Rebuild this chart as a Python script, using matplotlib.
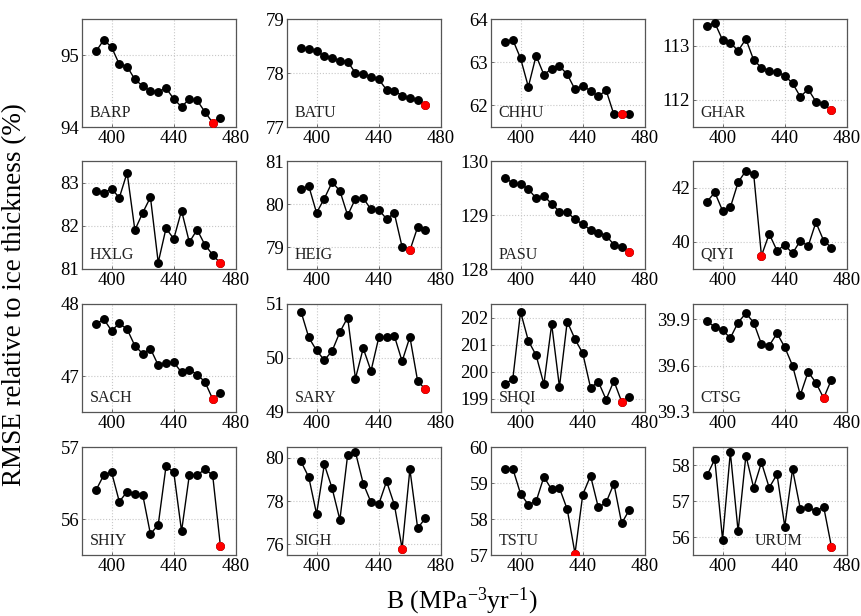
import matplotlib
matplotlib.use("Agg")
import matplotlib.pyplot as plt
import numpy as np

plt.rcParams['font.family'] = ['Liberation Serif', 'DejaVu Serif']
plt.rcParams['mathtext.fontset'] = 'custom'
plt.rcParams['mathtext.rm'] = 'Liberation Serif'
plt.rcParams['mathtext.it'] = 'Liberation Serif:italic'

B = [390, 395, 400, 405, 410, 415, 420, 425, 430, 435, 440, 445, 450, 455, 460, 465, 470]

stations = ["BARP", "BATU", "CHHU", "GHAR",
            "HXLG", "HEIG", "PASU", "QIYI",
            "SACH", "SARY", "SHQI", "CTSG",
            "SHIY", "SIGH", "TSTU", "URUM"]

BARP = [95.05, 95.21, 95.11, 94.87, 94.84, 94.66, 94.57, 94.50, 94.49, 94.54, 94.39, 94.28, 94.39, 94.37, 94.21, 94.06, 94.13]
BATU = [78.47, 78.44, 78.40, 78.32, 78.27, 78.23, 78.21, 78.00, 77.98, 77.93, 77.88, 77.69, 77.67, 77.58, 77.53, 77.50, 77.41]
CHHU = [63.46, 63.52, 63.09, 62.43, 63.15, 62.71, 62.85, 62.91, 62.72, 62.37, 62.45, 62.34, 62.21, 62.35, 61.79, 61.79, 61.79]
GHAR = [113.37, 113.43, 113.11, 113.06, 112.91, 113.13, 112.74, 112.60, 112.54, 112.52, 112.45, 112.31, 112.06, 112.20, 111.97, 111.93, 111.81]
HXLG = [82.80, 82.76, 82.86, 82.65, 83.23, 81.90, 82.30, 82.66, 81.15, 81.94, 81.70, 82.35, 81.62, 81.91, 81.56, 81.33, 81.13]
HEIG = [80.35, 80.42, 79.80, 80.13, 80.51, 80.31, 79.74, 80.13, 80.14, 79.88, 79.87, 79.66, 79.79, 79.01, 78.93, 79.47, 79.41]
PASU = [129.69, 129.59, 129.57, 129.48, 129.31, 129.35, 129.21, 129.06, 129.05, 128.92, 128.83, 128.72, 128.67, 128.62, 128.45, 128.41, 128.32]
QIYI = [41.49, 41.84, 41.16, 41.28, 42.21, 42.64, 42.52, 39.49, 40.30, 39.68, 39.89, 39.58, 40.05, 39.84, 40.73, 40.05, 39.79]
SACH = [47.72, 47.79, 47.63, 47.73, 47.65, 47.42, 47.31, 47.38, 47.15, 47.18, 47.19, 47.05, 47.09, 47.02, 46.92, 46.68, 46.76]
SARY = [50.86, 50.38, 50.14, 49.96, 50.13, 50.48, 50.75, 49.62, 50.18, 49.76, 50.38, 50.38, 50.41, 49.94, 50.39, 49.57, 49.42]
SHQI = [199.55, 199.71, 202.21, 201.14, 200.60, 199.53, 201.75, 199.43, 201.85, 201.20, 200.67, 199.40, 199.62, 198.96, 199.65, 198.88, 199.06]
CTSG = [39.89, 39.85, 39.83, 39.78, 39.88, 39.94, 39.88, 39.74, 39.73, 39.81, 39.72, 39.60, 39.41, 39.56, 39.49, 39.39, 39.51]
SHIY = [56.40, 56.61, 56.65, 56.24, 56.38, 56.35, 56.34, 55.79, 55.92, 56.73, 56.65, 55.83, 56.61, 56.61, 56.69, 56.61, 55.62]
SIGH = [79.83, 79.10, 77.40, 79.69, 78.59, 77.13, 80.14, 80.26, 78.81, 77.94, 77.85, 78.91, 77.83, 75.80, 79.47, 76.74, 77.21]
TSTU = [59.40, 59.40, 58.70, 58.40, 58.49, 59.17, 58.82, 58.86, 58.27, 57.04, 58.68, 59.20, 58.32, 58.46, 58.98, 57.88, 58.26]
URUM = [57.71, 58.16, 55.93, 58.35, 56.16, 58.26, 57.37, 58.07, 57.37, 57.74, 56.29, 57.88, 56.78, 56.83, 56.71, 56.84, 55.73]

series = [BARP, BATU, CHHU, GHAR, HXLG, HEIG, PASU, QIYI,
          SACH, SARY, SHQI, CTSG, SHIY, SIGH, TSTU, URUM]

best_B = [465, 470, 465, 470, 470, 460, 470, 425,
          465, 470, 465, 465, 470, 455, 435, 470]

ylims = [(94, 95.5), (77, 79), (61.5, 64), (111.5, 113.5),
         (81, 83.5), (78.5, 81), (128, 130), (39, 43),
         (46.5, 48), (49, 51), (198.5, 202.5), (39.3, 40.0),
         (55.5, 57), (75.5, 80.5), (57, 60), (55.5, 58.5)]
yticks = [[94, 95], [77, 78, 79], [62, 63, 64], [112, 113],
          [81, 82, 83], [79, 80, 81], [128, 129, 130], [40, 42],
          [47, 48], [49, 50, 51], [199, 200, 201, 202], [39.3, 39.6, 39.9],
          [56, 57], [76, 78, 80], [57, 58, 59, 60], [56, 57, 58]]
ytick_labels = [[str(t) for t in tl] for tl in yticks]
xticks = [400, 440, 480]

W, H = 861, 616
fig = plt.figure(figsize=(W / 100, H / 100), dpi=100)

col_left = [82, 287, 491, 693]
row_bottom = [127, 269, 412, 555]
aw, ah = 154, 108

label_x = [0.05] * 16
label_x[15] = 0.40

for i, name in enumerate(stations):
    r, c = divmod(i, 4)
    ax = fig.add_axes([col_left[c] / W, 1 - row_bottom[r] / H, aw / W, ah / H])
    y = series[i]
    ax.plot(B, y, color='black', lw=1.0, marker='o', ms=5.4, mfc='black', mec='black', zorder=3)
    bi = B.index(best_B[i])
    ax.plot([B[bi]], [y[bi]], 'o', color='red', ms=5.4, zorder=4)
    ax.set_xlim(381, 480)
    ax.set_ylim(*ylims[i])
    ax.set_xticks(xticks)
    ax.set_yticks(yticks[i])
    ax.set_yticklabels(ytick_labels[i])
    ax.tick_params(axis='both', labelsize=13.5, direction='in', length=2, width=0.6,
                   colors='#555555', labelcolor='black', pad=2)
    ax.grid(True, color='#c8c8c8', linestyle=':', linewidth=0.8)
    ax.set_axisbelow(True)
    for s in ax.spines.values():
        s.set_color('#555555')
        s.set_linewidth(0.9)
    ax.text(label_x[i], 0.06, name, transform=ax.transAxes, fontsize=11.5,
            ha='left', va='bottom', color='#222222')

fig.text(15 / W, 1 - 295 / H, "RMSE relative to ice thickness (%)", rotation=90,
         ha='center', va='center', fontsize=19.5)
fig.text(462 / W, 1 - 601 / H, r"B (MPa$^{-3}$yr$^{-1}$)", ha='center', va='center', fontsize=18.5)

fig.savefig("out.png", dpi=100)
